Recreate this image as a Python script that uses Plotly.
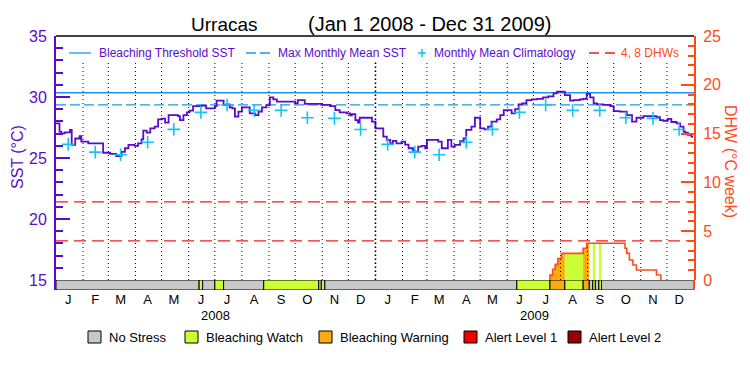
import plotly.graph_objects as go
from datetime import datetime

# ------------------------------------------------------------------ data
site_name = "Urracas"
period_text = "(Jan 1 2008 - Dec 31 2009)"

sst_dates = [
    "2008-01-01", "2008-01-05", "2008-01-07", "2008-01-11", "2008-01-17", "2008-01-19", "2008-01-23", "2008-01-28", "2008-01-30",
    "2008-02-07", "2008-02-24",
    "2008-03-03", "2008-03-10", "2008-03-16", "2008-03-20", "2008-03-24", "2008-03-31",
    "2008-04-04", "2008-04-08", "2008-04-10", "2008-04-14", "2008-04-18", "2008-04-23", "2008-04-27",
    "2008-05-01", "2008-05-05", "2008-05-09", "2008-05-20", "2008-05-22", "2008-05-26", "2008-05-30",
    "2008-06-02", "2008-06-06", "2008-06-16", "2008-06-21",
    "2008-07-01", "2008-07-03", "2008-07-11", "2008-07-14", "2008-07-18", "2008-07-21", "2008-07-24", "2008-07-28",
    "2008-08-01", "2008-08-10", "2008-08-16", "2008-08-20", "2008-08-24", "2008-08-29",
    "2008-09-02", "2008-09-06", "2008-09-10",
    "2008-10-01", "2008-10-04", "2008-10-12", "2008-10-31",
    "2008-11-10", "2008-11-16", "2008-11-21", "2008-11-29",
    "2008-12-03", "2008-12-05", "2008-12-09", "2008-12-12", "2008-12-14", "2008-12-28",
    "2009-01-01", "2009-01-10", "2009-01-14", "2009-01-18", "2009-01-21", "2009-01-25", "2009-01-31",
    "2009-02-04", "2009-02-08", "2009-02-13", "2009-02-15", "2009-02-19", "2009-02-23", "2009-02-27",
    "2009-03-01", "2009-03-14", "2009-03-18", "2009-03-25", "2009-03-29",
    "2009-04-02", "2009-04-08", "2009-04-12", "2009-04-15", "2009-04-21", "2009-04-25",
    "2009-05-01", "2009-05-06", "2009-05-10", "2009-05-14", "2009-05-20", "2009-05-24", "2009-05-28",
    "2009-06-06", "2009-06-10", "2009-06-14", "2009-06-18", "2009-06-23", "2009-06-29",
    "2009-07-05", "2009-07-12", "2009-07-18", "2009-07-24", "2009-07-28",
    "2009-08-06", "2009-08-12", "2009-08-16", "2009-08-23", "2009-08-27", "2009-08-31",
    "2009-09-04", "2009-09-08", "2009-09-12", "2009-09-19", "2009-09-27",
    "2009-10-01", "2009-10-08", "2009-10-16", "2009-10-22", "2009-10-27",
    "2009-11-04", "2009-11-19", "2009-11-23", "2009-11-27",
    "2009-12-02", "2009-12-06", "2009-12-12", "2009-12-16", "2009-12-20", "2009-12-22", "2009-12-25", "2009-12-29", "2009-12-31",
]
sst_values = [
    27.84, 27.16, 27.02, 27.10, 27.30, 26.07, 26.60, 26.80, 26.34,
    26.20, 25.43,
    25.33, 25.16, 25.50, 25.80, 26.07, 26.00,
    26.20, 26.53, 27.24, 27.08, 27.43, 27.57, 28.17,
    28.22, 27.90, 28.52, 28.44, 28.10, 28.52, 28.74,
    28.88, 29.26, 29.29, 29.07,
    29.26, 29.70, 29.34, 29.40, 29.15, 29.07, 28.39, 28.80,
    29.15, 28.66, 28.52, 28.80, 29.15, 29.34,
    29.97, 29.80, 29.62,
    29.48, 29.75, 29.43, 29.35,
    29.26, 28.93, 28.74, 28.66,
    28.50, 28.60, 28.11, 27.90, 28.30, 27.98,
    27.43, 26.75, 26.48, 26.20, 26.40, 26.20, 26.34,
    26.10, 25.80, 25.60, 25.52, 25.93, 26.00, 25.80,
    26.48, 26.34, 25.80, 26.48, 25.93,
    26.07, 26.39, 26.60, 27.30, 27.57, 28.30,
    27.43, 27.35, 27.57, 27.98, 28.17, 28.52, 28.93,
    28.66, 29.00, 29.40, 29.48, 29.75, 29.80,
    29.85, 29.97, 30.05, 30.30, 30.44,
    30.16, 29.70, 29.75, 29.80, 29.85, 30.25,
    29.97, 29.48, 29.40, 29.35, 29.26,
    28.85, 28.80, 28.52, 27.98, 28.30,
    28.44, 28.35, 28.11, 28.05,
    28.20, 27.95, 27.84, 27.57, 27.16, 27.08, 26.89, 26.75, 26.75,
]

clim_years = [2008, 2009]
clim_values = [26.12, 25.48, 25.27, 26.29, 27.35, 28.74, 29.34, 28.90, 28.90, 28.30, 28.25, 27.33]

mmm_sst = 29.35
threshold_offset = 1.0
dhw_reference_levels = [4, 8]

dhw_dates = ["2009-07-19", "2009-07-20", "2009-07-23", "2009-07-26", "2009-07-29", "2009-08-02",
             "2009-08-27", "2009-08-31", "2009-10-14", "2009-10-16", "2009-10-19", "2009-10-23",
             "2009-10-27", "2009-11-19", "2009-11-24"]
dhw_values = [0.0, 0.5, 1.1, 1.6, 2.2, 2.73, 3.25, 3.76, 3.25, 2.73, 2.05, 1.54, 1.02, 0.51, 0.0]

stress_start = ["2008-01-01", "2008-06-13", "2008-06-17", "2008-07-01", "2008-07-11", "2008-08-26",
                "2008-10-28", "2008-10-31", "2008-11-04", "2009-06-12", "2009-07-20", "2009-08-06",
                "2009-08-27", "2009-09-03", "2009-09-07", "2009-09-10", "2009-09-14", "2009-09-17"]
stress_level = [0, 1, 0, 1, 0, 1, 0, 1, 0, 1, 2, 1, 2, 0, 1, 0, 1, 0]
stress_names = ["No Stress", "Bleaching Watch", "Bleaching Warning", "Alert Level 1", "Alert Level 2"]

month_letters = ["J", "F", "M", "A", "M", "J", "J", "A", "S", "O", "N", "D"]
year_labels = ["2008", "2009"]
x_start, x_end = "2008-01-01", "2010-01-01"

sst_range = [15, 35]
dhw_range = [0, 25]

# ------------------------------------------------------------------ style
FONT = "Liberation Sans, Arial, sans-serif"
PURPLE = "#5a0ccb"
ORANGE = "#ff4a1c"
RED_DASH = "#f01e1e"
THRESH_BLUE = "#1c96f0"
CLIM_CYAN = "#16c4f4"
STRESS_COLORS = ["#c8c8c8", "#ccff33", "#fbaa14", "#ee0000", "#990000"]

W, H = 750, 375
PAGE_OFFSET = 8                     # default body margin of the html page
PLOT_L, PLOT_T, PW, PH = 56, 36, 638, 254   # plot area in screen pixels
L = PLOT_L - PAGE_OFFSET
T = PLOT_T - PAGE_OFFSET
R = W - L - PW
B = H - T - PH
BAR_PX = 10
GRID_TOP_DHW = 22.3


def px_x(p):
    return (p - PLOT_L) / PW


def px_y(p):
    return (PLOT_T + PH - p) / PH


def d(s):
    return datetime.strptime(s, "%Y-%m-%d")


fig = go.Figure()

# stress bar
starts = [d(s) for s in stress_start]
ends = starts[1:] + [d(x_end)]
fig.add_trace(go.Bar(
    x=starts, y=[1] * len(starts), base=0, offset=0,
    width=[(e - s).total_seconds() * 1000 for s, e in zip(starts, ends)],
    marker=dict(color=[STRESS_COLORS[l] for l in stress_level], line=dict(color="black", width=1)),
    xaxis="x", yaxis="y3", hoverinfo="skip", showlegend=False,
))

dhw_dt = [d(s) for s in dhw_dates]


def dhw_at(t):
    v = 0.0
    for dd, vv in zip(dhw_dt, dhw_values):
        if dd <= t:
            v = vv
    return v


# coloured fill under DHW curve
for s, e, lev in zip(starts, ends, stress_level):
    if lev == 0:
        continue
    xs = [s] + [dd for dd in dhw_dt if s < dd < e] + [e]
    ys = [dhw_at(x) for x in xs[:-1]]
    ys.append(ys[-1])
    if max(ys) <= 0:
        continue
    fig.add_trace(go.Scatter(
        x=xs, y=ys, mode="lines", line=dict(width=0, shape="hv"),
        fill="tozeroy", fillcolor=STRESS_COLORS[lev],
        xaxis="x", yaxis="y2", hoverinfo="skip", showlegend=False,
    ))

# dotted month separators
gx, gy = [], []
year_sep = []
for yr in (2008, 2009):
    for m in range(1, 13):
        t = datetime(yr, m, 1)
        if t == d(x_start):
            continue
        if m == 1:
            year_sep.append(t)
            continue
        gx += [t, t, None]
        gy += [0, GRID_TOP_DHW, None]
fig.add_trace(go.Scatter(x=gx, y=gy, mode="lines", line=dict(color="black", width=1, dash="1px,3px"),
                         xaxis="x", yaxis="y2", hoverinfo="skip", showlegend=False))
for t in year_sep:
    fig.add_trace(go.Scatter(x=[t, t], y=[0, GRID_TOP_DHW], mode="lines",
                             line=dict(color="black", width=1.6, dash="1.5px,2.5px"),
                             xaxis="x", yaxis="y2", hoverinfo="skip", showlegend=False))

# DHW reference lines
for lv in dhw_reference_levels:
    fig.add_trace(go.Scatter(x=[x_start, x_end], y=[lv, lv], mode="lines",
                             line=dict(color=RED_DASH, width=1.3, dash="12px,6px"),
                             xaxis="x", yaxis="y2", hoverinfo="skip", showlegend=False))

# DHW line
fig.add_trace(go.Scatter(x=dhw_dates, y=dhw_values, mode="lines",
                         line=dict(color=ORANGE, width=1.6, shape="hv"),
                         xaxis="x", yaxis="y2", hoverinfo="skip", showlegend=False))

# SST threshold lines
fig.add_trace(go.Scatter(x=[x_start, x_end], y=[mmm_sst + threshold_offset] * 2, mode="lines",
                         line=dict(color=THRESH_BLUE, width=1.3), xaxis="x", yaxis="y",
                         hoverinfo="skip", showlegend=False))
fig.add_trace(go.Scatter(x=[x_start, x_end], y=[mmm_sst] * 2, mode="lines",
                         line=dict(color=THRESH_BLUE, width=1.3, dash="10px,4px"), xaxis="x", yaxis="y",
                         hoverinfo="skip", showlegend=False))

# SST line
fig.add_trace(go.Scatter(x=sst_dates, y=sst_values, mode="lines",
                         line=dict(color=PURPLE, width=1.8, shape="hv"),
                         xaxis="x", yaxis="y", hoverinfo="skip", showlegend=False))

# climatology crosses
cx, cy = [], []
for yr in clim_years:
    for m, v in enumerate(clim_values, start=1):
        cx.append(datetime(yr, m, 15))
        cy.append(v)
fig.add_trace(go.Scatter(x=cx, y=cy, mode="markers",
                         marker=dict(symbol="cross-thin", size=9, line=dict(color=CLIM_CYAN, width=1.6)),
                         xaxis="x", yaxis="y", hoverinfo="skip", showlegend=False))

# ------------------------------------------------------------------ layout
tick_x, tick_t = [], []
for yr in (2008, 2009):
    for m in range(1, 13):
        tick_x.append(datetime(yr, m, 15))
        tick_t.append(month_letters[m - 1])

bar_frac = BAR_PX / PH

fig.update_layout(
    width=W, height=H, autosize=False,
    margin=dict(l=L, r=R, t=T, b=B, pad=0, autoexpand=False),
    paper_bgcolor="white", plot_bgcolor="white",
    barmode="overlay", showlegend=False,
    font=dict(family=FONT, color="black"),
    xaxis=dict(range=[x_start, x_end], anchor="y3", domain=[0, 1], automargin=False,
               tickmode="array", tickvals=tick_x, ticktext=tick_t, ticks="",
               tickfont=dict(size=13, color="black", family=FONT),
               showgrid=False, zeroline=False, showline=False),
    yaxis=dict(range=sst_range, domain=[bar_frac, 1], anchor="x", automargin=False,
               tickmode="array", tickvals=[15, 20, 25, 30, 35], ticks="inside",
               ticklen=14, tickwidth=2, tickcolor=PURPLE,
               minor=dict(dtick=1, ticks="inside", ticklen=7, tickwidth=2, tickcolor=PURPLE),
               tickfont=dict(size=16, color=PURPLE, family=FONT),
               showline=True, linecolor=PURPLE, linewidth=2,
               showgrid=False, zeroline=False, ticklabelstandoff=4),
    yaxis2=dict(range=dhw_range, overlaying="y", side="right", anchor="x", automargin=False,
                tickmode="array", tickvals=[0, 5, 10, 15, 20, 25], ticks="inside",
                ticklen=13, tickwidth=2, tickcolor=ORANGE,
                minor=dict(dtick=1, ticks="inside", ticklen=6, tickwidth=2, tickcolor=ORANGE),
                tickfont=dict(size=16, color=ORANGE, family=FONT),
                showline=True, linecolor=ORANGE, linewidth=2,
                showgrid=False, zeroline=False, ticklabelstandoff=4),
    yaxis3=dict(range=[0, 1], domain=[0, bar_frac], anchor="x", automargin=False,
                showticklabels=False, ticks="", showgrid=False, zeroline=False,
                showline=True, linecolor=PURPLE, linewidth=2),
)

shapes = [
    dict(type="line", xref="paper", yref="paper", x0=0, x1=1, y0=1, y1=1,
         line=dict(color="black", width=1.5)),
    dict(type="line", xref="paper", yref="paper", x0=1, x1=1, y0=0, y1=bar_frac,
         line=dict(color=ORANGE, width=2)),
]
annotations = []

# title
annotations.append(dict(text=site_name, x=px_x(224), y=px_y(24), xref="paper", yref="paper",
                        showarrow=False, xanchor="center", yanchor="middle",
                        font=dict(size=19, color="black", family=FONT)))
annotations.append(dict(text=period_text, x=px_x(430), y=px_y(24), xref="paper", yref="paper",
                        showarrow=False, xanchor="center", yanchor="middle",
                        font=dict(size=20, color="black", family=FONT)))

# axis titles
annotations.append(dict(text="SST (°C)", x=px_x(17), y=px_y(157), xref="paper", yref="paper",
                        showarrow=False, textangle=-90, xanchor="center", yanchor="middle",
                        font=dict(size=16, color=PURPLE, family=FONT)))
annotations.append(dict(text="DHW (°C week)", x=px_x(731), y=px_y(161), xref="paper", yref="paper",
                        showarrow=False, textangle=90, xanchor="center", yanchor="middle",
                        font=dict(size=16, color=ORANGE, family=FONT)))

# year labels
for yl in year_labels:
    annotations.append(dict(text=yl, x=f"{yl}-07-02", y=px_y(315), xref="x", yref="paper",
                            showarrow=False, xanchor="center", yanchor="middle",
                            font=dict(size=13, color="black", family=FONT)))

# top legend
LEG_Y = 53
shapes.append(dict(type="line", xref="paper", yref="paper", x0=px_x(69), x1=px_x(91),
                   y0=px_y(LEG_Y), y1=px_y(LEG_Y), line=dict(color=THRESH_BLUE, width=1.3)))
shapes.append(dict(type="line", xref="paper", yref="paper", x0=px_x(246), x1=px_x(270),
                   y0=px_y(LEG_Y), y1=px_y(LEG_Y), line=dict(color=THRESH_BLUE, width=1.3, dash="10px,4px")))
shapes.append(dict(type="line", xref="paper", yref="paper", x0=px_x(418), x1=px_x(426),
                   y0=px_y(LEG_Y), y1=px_y(LEG_Y), line=dict(color=CLIM_CYAN, width=1.6)))
shapes.append(dict(type="line", xref="paper", yref="paper", x0=px_x(422), x1=px_x(422),
                   y0=px_y(LEG_Y - 4), y1=px_y(LEG_Y + 4), line=dict(color=CLIM_CYAN, width=1.6)))
shapes.append(dict(type="line", xref="paper", yref="paper", x0=px_x(589), x1=px_x(615),
                   y0=px_y(LEG_Y), y1=px_y(LEG_Y), line=dict(color=RED_DASH, width=1.3, dash="10px,6px")))
for txt, xp, col in [("Bleaching Threshold SST", 97, PURPLE), ("Max Monthly Mean SST", 276, PURPLE),
                     ("Monthly Mean Climatology", 432, PURPLE), ("4, 8 DHWs", 619, ORANGE)]:
    annotations.append(dict(text=txt, x=px_x(xp), y=px_y(LEG_Y), xref="paper", yref="paper",
                            showarrow=False, xanchor="left", yanchor="middle",
                            font=dict(size=12, color=col, family=FONT)))

# bottom legend
LB_Y0, LB_Y1 = 331, 343
box_left = [88, 185, 319, 464, 568]
for name, col, bx in zip(stress_names, STRESS_COLORS, box_left):
    shapes.append(dict(type="rect", xref="paper", yref="paper", x0=px_x(bx), x1=px_x(bx + 13),
                       y0=px_y(LB_Y1), y1=px_y(LB_Y0), fillcolor=col, line=dict(color="black", width=1)))
    annotations.append(dict(text=name, x=px_x(bx + 19), y=px_y((LB_Y0 + LB_Y1) / 2),
                            xref="paper", yref="paper", showarrow=False, xanchor="left", yanchor="middle",
                            font=dict(size=13, color="black", family=FONT)))

fig.update_layout(shapes=shapes, annotations=annotations)

fig.write_html("out.html")
